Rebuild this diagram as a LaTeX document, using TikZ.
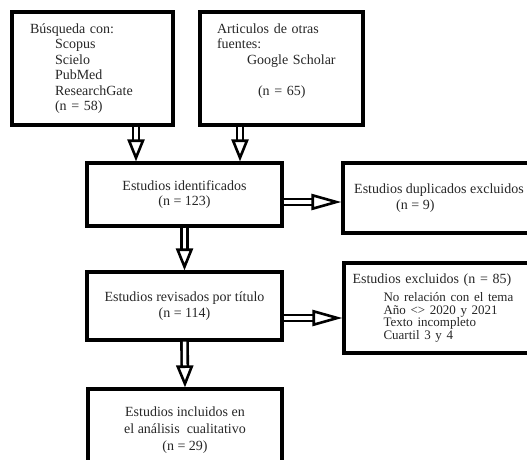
\documentclass[tikz,border=0pt]{standalone}
\usepackage{fontspec}
\setmainfont{Liberation Serif}
\usetikzlibrary{arrows.meta,positioning,calc}
\tikzset{
  stage/.style={draw, line width=3.2pt, align=center, inner sep=6pt, text=black!85,
    font=\fontsize{14}{15.5}\selectfont},
  srcbox/.style={stage, align=left, minimum width=161pt, minimum height=113pt},
  dblarrow/.style={double, double distance=3.5pt, line width=2.6pt,
    -{Triangle[open, length=22pt, width=17pt, line width=2.6pt]}},
  hdblarrow/.style={dblarrow, -{Triangle[open, length=30pt, width=16pt, line width=2.6pt]}}
}
\newcommand{\itemfont}{\fontsize{13}{13}\selectfont}

\begin{document}
\begin{tikzpicture}[x=1pt,y=1pt]
  \useasboundingbox (0,0) rectangle (527,459);
  \clip (0,0) rectangle (527,459);
  % sources
  \node[srcbox, text width=125pt] (search) at (92.5,390.5) {B\'usqueda con:\\
    \hspace*{25pt}Scopus\\
    \hspace*{25pt}Scielo\\
    \hspace*{25pt}PubMed\\
    \hspace*{25pt}ResearchGate\\
    \hspace*{25pt}(n = 58)};
  \node[srcbox, minimum width=163pt, text width=129pt, text depth=80pt] (other) at (281.5,390.5) {Articulos de otras\\
    fuentes:\\
    \hspace*{30pt}Google Scholar\\[15.5pt]
    \hspace*{41pt}(n = 65)};
  % main column
  \node[stage, minimum width=195pt, minimum height=63pt] (ident) at (184.5,264.5) {Estudios identificados\\(n = 123)};
  \node[stage, minimum width=195pt, minimum height=68pt] (review) at (184.5,153) {Estudios revisados por t\'itulo\\(n = 114)};
  \node[stage, minimum width=194pt, minimum height=82pt, font=\fontsize{14}{17}\selectfont] (incl) at (185,29) {Estudios incluidos en\\el an\'alisis~ cualitativo\\(n = 29)};
  % exclusions
  \node[stage, align=left, minimum width=192pt, minimum height=70pt] (dup) at (439,261) {Estudios duplicados excluidos\\
    \hspace*{42pt}(n = 9)};
  \node[stage, align=left, minimum width=191pt, minimum height=90pt, text width=174pt] (excl) at (439.5,151) {Estudios excluidos (n = 85)\\[3pt]
    \hspace*{31pt}{\itemfont No relaci\'on con el tema}\\[-3pt]
    \hspace*{31pt}{\itemfont A\~no <> 2020 y 2021}\\[-3pt]
    \hspace*{31pt}{\itemfont Texto incompleto}\\[-3pt]
    \hspace*{31pt}{\itemfont Cuartil 3 y 4}};
  % connectors
  \draw[dblarrow] ([xshift=43.5pt]search.south) -- ([xshift=43.5pt]search.south |- ident.north);
  \draw[dblarrow] ([xshift=-41.5pt]other.south) -- ([xshift=-41.5pt]other.south |- ident.north);
  \draw[dblarrow] (ident.south) -- (review.north);
  \draw[dblarrow] (review.south) -- (incl.north);
  \draw[hdblarrow] ([yshift=-7.5pt]ident.east) -- ([yshift=-7.5pt]ident.east -| dup.west);
  \draw[hdblarrow] ([yshift=-12pt]review.east) -- ([yshift=-12pt]review.east -| excl.west);
\end{tikzpicture}
\end{document}
